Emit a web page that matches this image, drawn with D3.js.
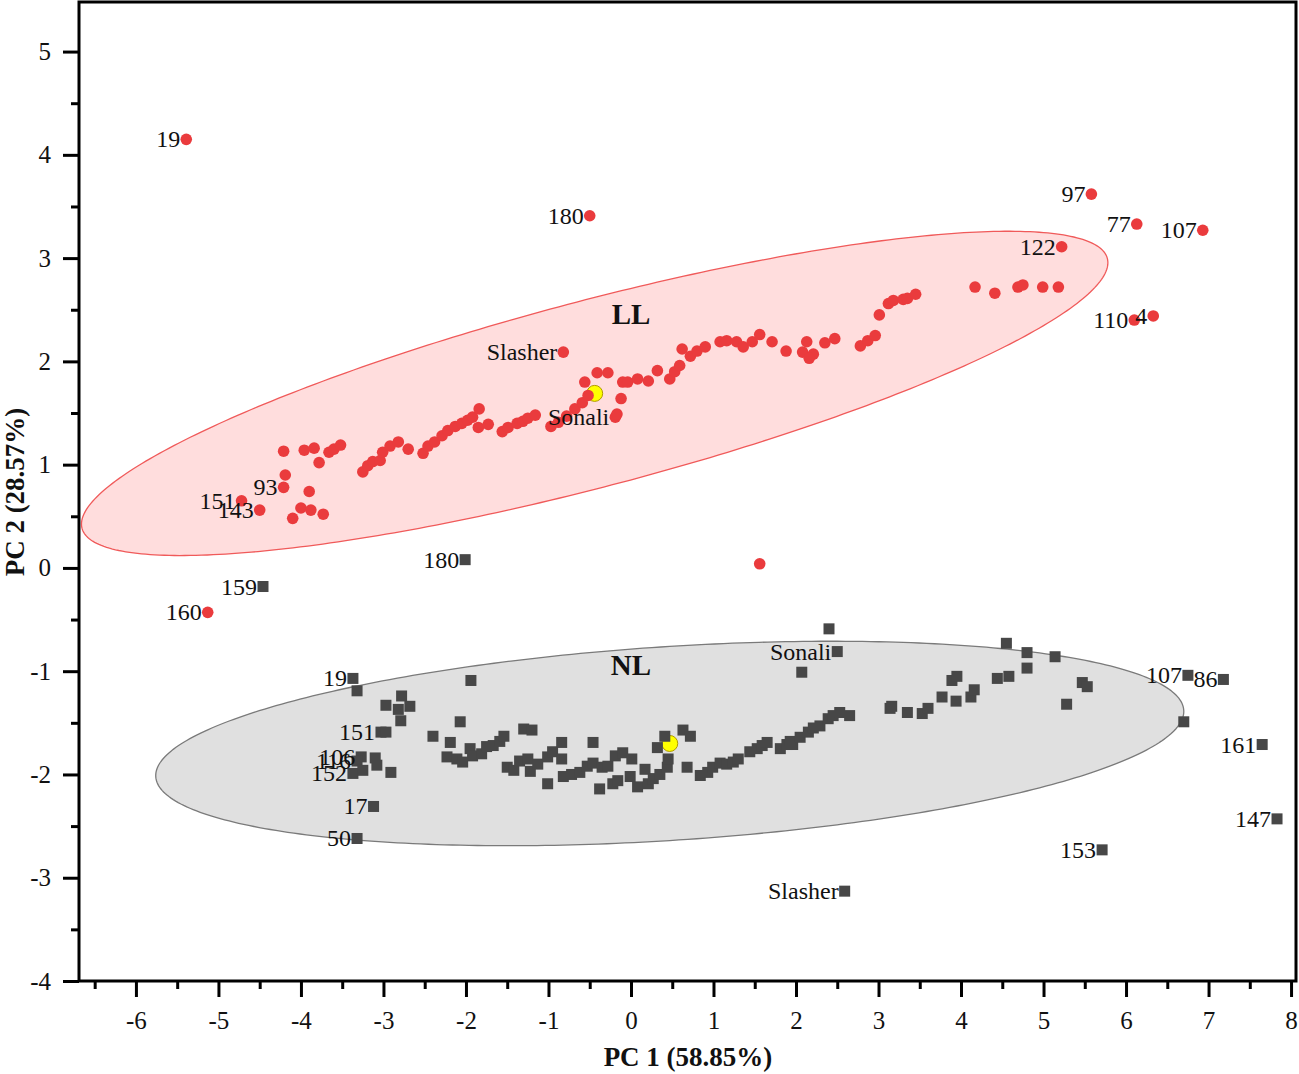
<!DOCTYPE html>
<html><head><meta charset="utf-8">
<script src="https://cdn.jsdelivr.net/npm/d3@7"></script>
<style>
body{margin:0;background:#fff}
svg{display:block}
text{font-family:"Liberation Serif","Times New Roman",serif;fill:#111}
</style>
</head><body>
<svg id="chart" width="1299" height="1074"></svg>
<script>
// ---------- DATA ----------
const xTicks = [-6,-5,-4,-3,-2,-1,0,1,2,3,4,5,6,7,8];
const yTicks = [-4,-3,-2,-1,0,1,2,3,4,5];
const xMinorTicks = [-6.5,-5.5,-4.5,-3.5,-2.5,-1.5,-0.5,0.5,1.5,2.5,3.5,4.5,5.5,6.5,7.5];
const yMinorTicks = [-3.5,-2.5,-1.5,-0.5,0.5,1.5,2.5,3.5,4.5];
const xTitle = "PC 1 (58.85%)";
const yTitle = "PC 2 (28.57%)";
const groupNames = ["LL","NL"];

// LL group (red circles); first entries carry labels
const llLabel = ["19","180","97","77","107","122","110","4","Slasher","160","","151","143","93","Sonali"];
const llX = [-5.39,-0.50,5.58,6.13,6.93,5.22,6.10,6.33,-0.82,-5.13,1.56,-4.72,-4.50,-4.21,-0.19,
 -4.19,-4.21,-3.96,-3.84,-3.78,-3.66,-3.60,-3.52,-3.90,-4.00,-3.88,-4.10,-3.73,
 -3.25,-3.19,-3.13,-3.04,-3.01,-2.92,-2.82,-2.70,
 -2.52,-2.46,-2.38,-2.29,-2.22,-2.13,-2.05,-1.98,-1.92,-1.84,-1.85,-1.73,
 -1.56,-1.49,-1.38,-1.31,-1.25,-1.16,
 -0.97,-0.88,-0.78,-0.68,-0.59,-0.52,-0.56,-0.41,-0.28,-0.10,-0.12,-0.17,
 -0.04,0.08,0.21,0.32,0.47,0.53,0.59,0.62,0.72,0.80,0.90,1.08,1.16,1.28,1.36,1.47,1.56,1.71,1.88,2.13,
 2.08,2.21,2.16,2.35,2.47,2.78,2.87,2.96,3.01,3.12,3.18,3.30,3.35,3.45,4.17,4.41,4.69,4.75,4.99,5.18];
const llY = [4.15,3.41,3.62,3.33,3.27,3.11,2.40,2.44,2.09,-0.43,0.04,0.65,0.56,0.78,1.46,
 0.90,1.13,1.14,1.16,1.02,1.12,1.15,1.19,0.74,0.58,0.56,0.48,0.52,
 0.93,0.99,1.03,1.04,1.12,1.18,1.22,1.15,
 1.11,1.18,1.22,1.28,1.33,1.37,1.40,1.43,1.46,1.54,1.36,1.39,
 1.32,1.36,1.40,1.42,1.45,1.48,
 1.37,1.41,1.47,1.54,1.60,1.67,1.80,1.89,1.89,1.80,1.64,1.49,
 1.80,1.83,1.81,1.91,1.83,1.90,1.96,2.12,2.05,2.10,2.14,2.19,2.20,2.19,2.14,2.19,2.26,2.19,2.10,2.19,
 2.09,2.07,2.03,2.18,2.22,2.15,2.20,2.25,2.45,2.56,2.59,2.60,2.61,2.65,2.72,2.66,2.72,2.74,2.72,2.72];

// NL group (grey squares)
const nlLabel = ["180","159","Sonali","107","86","161","147","153","Slasher","19","151","106","116","152","17","50"];
const nlX = [-2.01,-4.46,2.50,6.75,7.18,7.65,7.83,5.71,2.59,-3.37,-3.03,-3.27,-3.32,-3.37,-3.12,-3.32,
 2.40,2.07,-3.32,-2.97,-2.78,-2.82,-2.68,-2.79,-2.97,-3.10,-3.08,-3.25,-2.91,
 -1.94,-2.07,-2.40,-2.19,-2.23,-2.11,-2.04,-1.95,-1.92,-1.81,-1.75,-1.67,-1.59,-1.54,-1.30,-1.20,
 -1.50,-1.42,-1.35,-1.25,-1.22,-1.13,-1.01,-0.95,-0.84,-0.84,-1.01,-0.82,-0.72,-0.62,-0.53,-0.46,-0.46,-0.35,-0.28,-0.19,
 -0.10,0.01,-0.38,-0.22,-0.16,-0.01,0.08,0.17,0.21,0.27,0.35,0.44,0.45,0.32,0.41,0.63,0.72,0.68,0.84,
 0.93,0.99,1.08,1.16,1.24,1.30,1.44,1.53,1.59,1.65,1.81,1.89,1.96,1.93,2.05,2.15,2.21,2.29,2.39,2.45,
 2.53,2.65,3.14,3.16,3.35,3.53,3.60,3.77,3.94,3.89,3.95,4.12,4.16,4.44,4.58,4.55,4.80,4.80,5.14,5.28,
 5.47,5.53,6.70];
const nlY = [0.08,-0.18,-0.81,-1.04,-1.08,-1.71,-2.43,-2.73,-3.13,-1.07,-1.59,-1.83,-1.87,-1.99,-2.31,-2.62,
 -0.59,-1.01,-1.19,-1.33,-1.24,-1.37,-1.34,-1.48,-1.59,-1.84,-1.91,-1.96,-1.98,
 -1.09,-1.49,-1.63,-1.69,-1.83,-1.85,-1.88,-1.75,-1.82,-1.80,-1.73,-1.72,-1.68,-1.63,-1.56,-1.57,
 -1.93,-1.96,-1.87,-1.85,-1.97,-1.90,-1.83,-1.78,-1.69,-1.85,-2.09,-2.02,-2.00,-1.98,-1.92,-1.89,-1.69,-1.93,-1.92,-1.82,
 -1.79,-1.85,-2.14,-2.09,-2.06,-2.02,-2.12,-1.95,-2.09,-2.04,-2.00,-1.93,-1.85,-1.74,-1.63,-1.57,-1.63,-1.93,-2.01,
 -1.98,-1.93,-1.89,-1.90,-1.88,-1.85,-1.78,-1.75,-1.72,-1.69,-1.75,-1.71,-1.71,-1.68,-1.64,-1.59,-1.55,-1.53,-1.46,-1.43,
 -1.40,-1.43,-1.36,-1.34,-1.40,-1.41,-1.36,-1.25,-1.29,-1.09,-1.05,-1.25,-1.18,-1.07,-1.05,-0.73,-0.97,-0.82,-0.86,-1.32,
 -1.11,-1.15,-1.49];

// group centroids and confidence-ellipse parameters (centre, half-extent in x / y, correlation)
const centroidX = [-0.44, 0.47];
const centroidY = [1.69, -1.70];
const ellipseEx = [6.22, 6.23];
const ellipseEy = [1.57, 0.99];
const ellipseRho = [0.806, 0.314];

// ---------- CHART ----------
const svg = d3.select("#chart");
const L = 79, R = 1296, T = 2, B = 981;
const x = d3.scaleLinear().domain([-6.69, 8.06]).range([L, R]);
const y = d3.scaleLinear().domain([-4, 5.48]).range([B, T]);
const fontFam = '"Liberation Serif","Times New Roman",serif';

const llPts = llX.map((v,i)=>({x:v, y:llY[i], label: llLabel[i] || ""}));
const nlPts = nlX.map((v,i)=>({x:v, y:nlY[i], label: nlLabel[i] || ""}));

function ellipsePath(g){
  const pts = d3.range(0, 360, 1).map(a=>{
    const t = a*Math.PI/180;
    const ex = centroidX[g] + ellipseEx[g]*Math.cos(t);
    const ey = centroidY[g] + ellipseEy[g]*(ellipseRho[g]*Math.cos(t) + Math.sqrt(1-ellipseRho[g]**2)*Math.sin(t));
    return [x(ex), y(ey)];
  });
  return d3.line().curve(d3.curveLinearClosed)(pts);
}

const plot = svg.append("g");
plot.append("path").attr("d", ellipsePath(1)).attr("fill","#e0e0e0").attr("stroke","#7a7a7a").attr("stroke-width",1.3);
plot.append("path").attr("d", ellipsePath(0)).attr("fill","#ffdddd").attr("stroke","#f05a5a").attr("stroke-width",1.3);

// group names
const gnY = [2.36, -1.04];
const gnX = [0.0, 0.0];
groupNames.forEach((n,i)=>{
  plot.append("text").attr("x", x(gnX[i])).attr("y", y(gnY[i])).attr("text-anchor","middle")
    .attr("font-size",29).attr("font-weight","bold").text(n);
});

// centroids
plot.selectAll("circle.cen").data([0,1]).join("circle").attr("class","cen")
  .attr("cx", d=>x(centroidX[d])).attr("cy", d=>y(centroidY[d])).attr("r", 8)
  .attr("fill","#ffff00").attr("stroke","#b09a00").attr("stroke-width",1);

// squares
const sq = 11;
plot.selectAll("rect.nl").data(nlPts).join("rect").attr("class","nl")
  .attr("x", d=>x(d.x)-sq/2).attr("y", d=>y(d.y)-sq/2).attr("width",sq).attr("height",sq)
  .attr("fill","#474747");
// circles
plot.selectAll("circle.ll").data(llPts).join("circle").attr("class","ll")
  .attr("cx", d=>x(d.x)).attr("cy", d=>y(d.y)).attr("r",5.8).attr("fill","#ea3b3d");

// labels
const labFont = 24;
plot.selectAll("text.lab").data(llPts.concat(nlPts).filter(d=>d.label)).join("text").attr("class","lab")
  .attr("x", d=>x(d.x)-6).attr("y", d=>y(d.y)+8).attr("text-anchor","end").attr("font-size",labFont)
  .text(d=>d.label);

// axes
const fmt = d => String(d);
const ax = svg.append("g").attr("transform",`translate(0,${B})`)
  .call(d3.axisBottom(x).tickValues(xTicks).tickSize(16).tickPadding(14).tickFormat(fmt));
const axm = svg.append("g").attr("transform",`translate(0,${B})`)
  .call(d3.axisBottom(x).tickValues(xMinorTicks).tickSize(8).tickFormat(""));
const ay = svg.append("g").attr("transform",`translate(${L},0)`)
  .call(d3.axisLeft(y).tickValues(yTicks).tickSize(16).tickPadding(12).tickFormat(fmt));
const aym = svg.append("g").attr("transform",`translate(${L},0)`)
  .call(d3.axisLeft(y).tickValues(yMinorTicks).tickSize(8).tickFormat(""));
[ax,axm,ay,aym].forEach(a=>{
  a.select(".domain").remove();
  a.selectAll(".tick line").attr("stroke","#000").attr("stroke-width",3);
  a.selectAll(".tick text").attr("font-size",25).attr("font-family",fontFam).attr("fill","#111");
});

// frame
svg.append("rect").attr("x",L).attr("y",T).attr("width",R-L).attr("height",B-T)
  .attr("fill","none").attr("stroke","#000").attr("stroke-width",3);

// titles
svg.append("text").attr("x", 688).attr("y", 1066).attr("text-anchor","middle")
  .attr("font-size",27).attr("font-weight","bold").text(xTitle);
svg.append("text").attr("transform",`translate(24,${492}) rotate(-90)`).attr("text-anchor","middle")
  .attr("font-size",27).attr("font-weight","bold").text(yTitle);
</script>
</body></html>
